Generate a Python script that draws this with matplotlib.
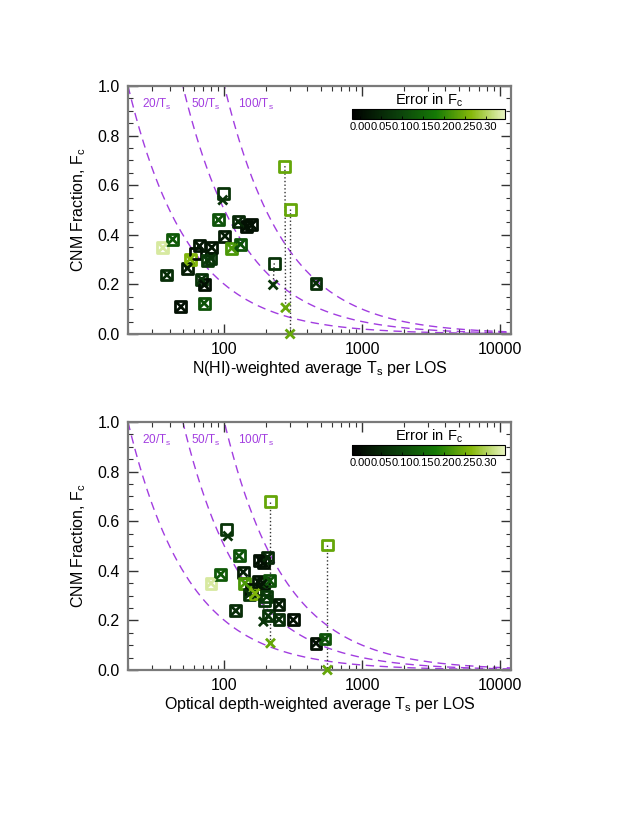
import numpy as np
import matplotlib
matplotlib.use("Agg")
import matplotlib.pyplot as plt
from matplotlib.colors import LinearSegmentedColormap, Normalize
from matplotlib.ticker import FixedLocator, MultipleLocator, NullFormatter

plt.rcParams['font.family'] = ['Liberation Sans', 'DejaVu Sans']
plt.rcParams['mathtext.fontset'] = 'custom'
plt.rcParams['mathtext.rm'] = 'Liberation Sans'

# top panel: N(HI)-weighted Ts; square = F_c, cross = second estimate
top_T = [35.8, 42.2, 38.3, 48.4, 54, 56.4, 61.4, 66, 68.5, 71.6, 71.3, 75.3, 80,
         81, 98.4, 90.6, 101, 113, 126, 131, 145, 158, 230, 275, 300, 462]
top_F = [0.348, 0.382, 0.238, 0.110, 0.265, 0.302, 0.325, 0.355, 0.220, 0.198, 0.124,
         0.298, 0.305, 0.349, 0.567, 0.460, 0.395, 0.346, 0.453, 0.362, 0.433, 0.440,
         0.285, 0.677, 0.503, 0.205]
top_Tx = [35.8, 42.2, 38.3, 48.4, 54, 56.4, np.nan, 66, 68.5, 71.6, 71.3, 75.3, 80,
          81, 97.4, 90.6, 101, 113, 126, 131, 145, 158, 226, 278, 300, 462]
top_Fx = [0.348, 0.382, 0.238, 0.110, 0.265, 0.302, np.nan, 0.355, 0.220, 0.198, 0.124,
          0.298, 0.305, 0.349, 0.540, 0.460, 0.395, 0.346, 0.453, 0.362, 0.433, 0.440,
          0.198, 0.106, 0.0, 0.205]
top_err = [0.33, 0.13, 0.06, 0.01, 0.03, 0.26, 0.0, 0.02, 0.07, 0.01, 0.12, 0.08, 0.07,
           0.02, 0.07, 0.12, 0.03, 0.22, 0.05, 0.12, 0.01, 0.01, 0.07, 0.24, 0.24, 0.06]

# bottom panel: optical depth-weighted Ts
bot_T = [80, 94.2, 104, 121, 127.8, 137, 141, 152, 158, 167, 176, 192, 192, 205, 214,
         203, 194, 208, 216, 249, 249, 316, 462, 537, 559, 181]
bot_F = [0.350, 0.386, 0.565, 0.239, 0.460, 0.395, 0.350, 0.306, 0.325, 0.309, 0.356,
         0.350, 0.433, 0.454, 0.360, 0.296, 0.282, 0.218, 0.679, 0.265, 0.204, 0.202,
         0.108, 0.125, 0.504, 0.443]
bot_Tx = [80, 94.2, 106, 121, 127.8, 137, 141, 152, np.nan, 167, 176, 192, 192, 205, 214,
          203, 192, 208, 216, 249, 249, 316, 462, 537, 559, 181]
bot_Fx = [0.350, 0.386, 0.540, 0.239, 0.460, 0.395, 0.350, 0.306, np.nan, 0.309, 0.356,
          0.350, 0.433, 0.454, 0.360, 0.296, 0.195, 0.218, 0.108, 0.265, 0.204, 0.202,
          0.108, 0.125, 0.0, 0.443]
bot_err = [0.33, 0.13, 0.07, 0.06, 0.12, 0.03, 0.22, 0.07, 0.0, 0.26, 0.02, 0.02, 0.01,
           0.05, 0.12, 0.08, 0.07, 0.07, 0.24, 0.03, 0.06, 0.01, 0.01, 0.12, 0.24, 0.01]

curve_consts = [20, 50, 100]
curve_labels = ['20/T$_\\mathrm{s}$', '50/T$_\\mathrm{s}$', '100/T$_\\mathrm{s}$']
curve_label_T = [25.4, 57.3, 125.7]
err_ticks = [0.0, 0.05, 0.10, 0.15, 0.20, 0.25, 0.30]

cmap = LinearSegmentedColormap.from_list(
    'err', [(0.0, '#000000'), (0.3, '#0b3f0b'), (0.55, '#157a05'),
            (0.78, '#86b80a'), (1.0, '#e8f4c0')])
norm = Normalize(vmin=-0.02, vmax=0.345)
purple = '#a23de0'
frame = '#7a7a7a'


def panel(ax, cax, T, F, Tx, Fx, err, xlabel):
    T, F, Tx, Fx = map(np.asarray, (T, F, Tx, Fx))
    cols = cmap(norm(np.asarray(err)))

    tt = np.logspace(np.log10(20), np.log10(12000), 400)
    for c, lab, tl in zip(curve_consts, curve_labels, curve_label_T):
        ax.plot(tt, c / tt, ls=(0, (6, 4)), color=purple, lw=1.0, zorder=1)
        ax.text(tl, 0.925, lab, color=purple, fontsize=8.5, ha='left', va='center')

    # dotted connectors where the two estimates differ
    for i in range(len(T)):
        if np.isfinite(Fx[i]) and abs(Fx[i] - F[i]) > 0.03:
            ax.plot([T[i], Tx[i]], [F[i], Fx[i]], ls=':', color='#333333', lw=1.0, zorder=2)

    ax.scatter(T, F, marker='s', s=62, facecolors='none', edgecolors=cols,
               linewidths=2.0, zorder=3, clip_on=False)
    ok = np.isfinite(Fx)
    ax.scatter(Tx[ok], Fx[ok], marker='x', s=42, c=cols[ok], linewidths=2.0,
               zorder=4, clip_on=False)

    ax.set_xscale('log')
    ax.set_xlim(20, 12000)
    ax.set_ylim(0, 1)
    ax.xaxis.set_major_locator(FixedLocator([100, 1000, 10000]))
    ax.set_xticklabels(['100', '1000', '10000'])
    ax.xaxis.set_minor_formatter(NullFormatter())
    ax.yaxis.set_major_locator(MultipleLocator(0.2))
    ax.yaxis.set_minor_locator(MultipleLocator(0.05))
    ax.yaxis.set_major_formatter(matplotlib.ticker.FormatStrFormatter('%.1f'))
    ax.tick_params(which='both', direction='in', top=True, right=True,
                   labelsize=11.5, color='#333333')
    ax.tick_params(which='major', length=7, width=1.0, pad=6)
    ax.tick_params(which='minor', length=3.5, width=0.8)
    for s in ax.spines.values():
        s.set_color(frame)
        s.set_linewidth(1.6)
    ax.set_xlabel(xlabel, fontsize=11.5, labelpad=1)
    ax.set_ylabel('CNM Fraction, F$_\\mathrm{c}$', fontsize=11.5)
    ax.yaxis.set_label_coords(-0.105, 0.5)

    sm = matplotlib.cm.ScalarMappable(norm=norm, cmap=cmap)
    cb = plt.colorbar(sm, cax=cax, orientation='horizontal')
    cb.set_ticks(err_ticks)
    cb.set_ticklabels(['%.2f' % v for v in err_ticks])
    cb.ax.tick_params(direction='in', length=2.5, width=0.6, labelsize=8, pad=2)
    cb.outline.set_linewidth(0.8)
    cax.set_title('Error in F$_\\mathrm{c}$', fontsize=10.5, pad=1.5)


fig = plt.figure(figsize=(6.39, 8.4), dpi=100)
W, H = 639.0, 840.0
ax1 = fig.add_axes([128 / W, 1 - 334 / H, 383 / W, 248 / H])
cax1 = fig.add_axes([352 / W, 1 - 119 / H, 153 / W, 10 / H])
ax2 = fig.add_axes([128 / W, 1 - 670 / H, 383 / W, 248 / H])
cax2 = fig.add_axes([352 / W, 1 - 455 / H, 153 / W, 10 / H])

panel(ax1, cax1, top_T, top_F, top_Tx, top_Fx, top_err,
      'N(HI)-weighted average T$_\\mathrm{s}$ per LOS')
panel(ax2, cax2, bot_T, bot_F, bot_Tx, bot_Fx, bot_err,
      'Optical depth-weighted average T$_\\mathrm{s}$ per LOS')

fig.savefig('out.png', dpi=100)
